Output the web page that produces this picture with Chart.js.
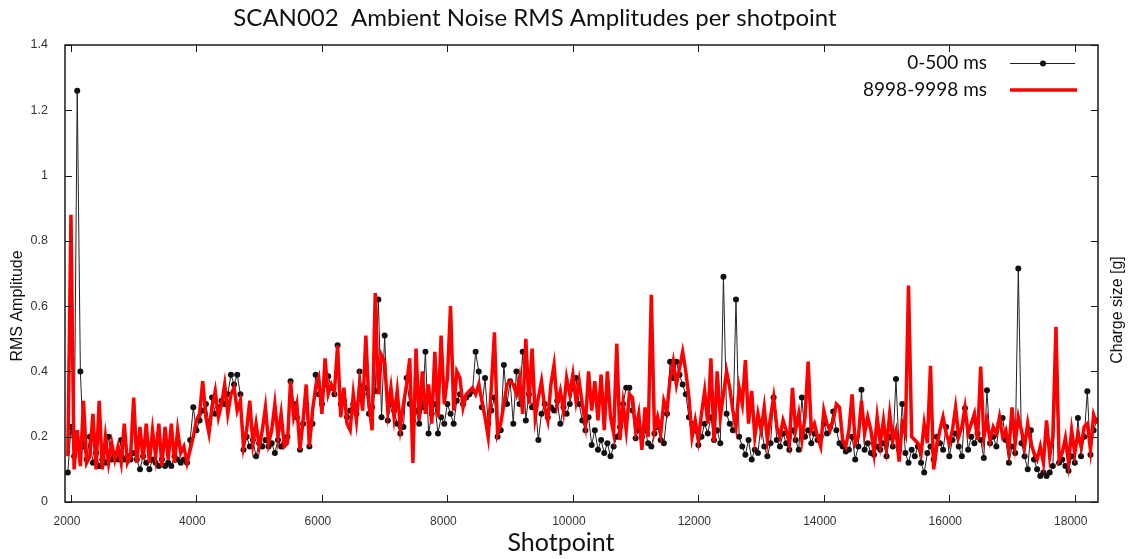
<!DOCTYPE html>
<html>
<head>
<meta charset="utf-8">
<script src="https://cdn.jsdelivr.net/npm/chart.js@4.4.1/dist/chart.umd.min.js"></script>
<style>
  body { margin: 0; background: #fff; }
  canvas { display: block; }
</style>
</head>
<body>
<canvas id="noiseChart" width="1130" height="559"></canvas>
<script>
'use strict';

// shotpoint numbers, one row per 1000 shotpoints
const shotpoints = [
  1950, 2000, 2050, 2100, 2150, 2200, 2250, 2300, 2350, 2400, 2450, 2500, 2550, 2600, 2650, 2700, 2750, 2800, 2850, 2900,
  2950, 3000, 3050, 3100, 3150, 3200, 3250, 3300, 3350, 3400, 3450, 3500, 3550, 3600, 3650, 3700, 3750, 3800, 3850, 3900,
  3950, 4000, 4050, 4100, 4150, 4200, 4250, 4300, 4350, 4400, 4450, 4500, 4550, 4600, 4650, 4700, 4750, 4800, 4850, 4900,
  4950, 5000, 5050, 5100, 5150, 5200, 5250, 5300, 5350, 5400, 5450, 5500, 5550, 5600, 5650, 5700, 5750, 5800, 5850, 5900,
  5950, 6000, 6050, 6100, 6150, 6200, 6250, 6300, 6350, 6400, 6450, 6500, 6550, 6600, 6650, 6700, 6750, 6800, 6850, 6900,
  6950, 7000, 7050, 7100, 7150, 7200, 7250, 7300, 7350, 7400, 7450, 7500, 7550, 7600, 7650, 7700, 7750, 7800, 7850, 7900,
  7950, 8000, 8050, 8100, 8150, 8200, 8250, 8300, 8350, 8400, 8450, 8500, 8550, 8600, 8650, 8700, 8750, 8800, 8850, 8900,
  8950, 9000, 9050, 9100, 9150, 9200, 9250, 9300, 9350, 9400, 9450, 9500, 9550, 9600, 9650, 9700, 9750, 9800, 9850, 9900,
  9950, 10000, 10050, 10100, 10150, 10200, 10250, 10300, 10350, 10400, 10450, 10500, 10550, 10600, 10650, 10700, 10750, 10800, 10850, 10900,
  10950, 11000, 11050, 11100, 11150, 11200, 11250, 11300, 11350, 11400, 11450, 11500, 11550, 11600, 11650, 11700, 11750, 11800, 11850, 11900,
  11950, 12000, 12050, 12100, 12150, 12200, 12250, 12300, 12350, 12400, 12450, 12500, 12550, 12600, 12650, 12700, 12750, 12800, 12850, 12900,
  12950, 13000, 13050, 13100, 13150, 13200, 13250, 13300, 13350, 13400, 13450, 13500, 13550, 13600, 13650, 13700, 13750, 13800, 13850, 13900,
  13950, 14000, 14050, 14100, 14150, 14200, 14250, 14300, 14350, 14400, 14450, 14500, 14550, 14600, 14650, 14700, 14750, 14800, 14850, 14900,
  14950, 15000, 15050, 15100, 15150, 15200, 15250, 15300, 15350, 15400, 15450, 15500, 15550, 15600, 15650, 15700, 15750, 15800, 15850, 15900,
  15950, 16000, 16050, 16100, 16150, 16200, 16250, 16300, 16350, 16400, 16450, 16500, 16550, 16600, 16650, 16700, 16750, 16800, 16850, 16900,
  16950, 17000, 17050, 17100, 17150, 17200, 17250, 17300, 17350, 17400, 17450, 17500, 17550, 17600, 17650, 17700, 17750, 17800, 17850, 17900,
  17950, 18000, 18050, 18100, 18150, 18200, 18250, 18300, 18350
];

// RMS amplitude, 0-500 ms window (black)
const rmsEarly = [
  0.09, 0.23, 0.14, 1.26, 0.40, 0.17, 0.13, 0.20, 0.12, 0.15, 0.11, 0.13, 0.12, 0.20, 0.13, 0.14, 0.13, 0.19, 0.13, 0.14,
  0.13, 0.15, 0.13, 0.10, 0.14, 0.12, 0.10, 0.13, 0.12, 0.11, 0.13, 0.11, 0.12, 0.11, 0.14, 0.13, 0.12, 0.13, 0.12, 0.19,
  0.29, 0.22, 0.25, 0.28, 0.30, 0.24, 0.32, 0.27, 0.29, 0.31, 0.30, 0.33, 0.39, 0.36, 0.39, 0.33, 0.16, 0.20, 0.17, 0.19,
  0.14, 0.18, 0.17, 0.19, 0.17, 0.18, 0.15, 0.19, 0.17, 0.18, 0.20, 0.37, 0.30, 0.26, 0.16, 0.24, 0.30, 0.17, 0.24, 0.39,
  0.33, 0.30, 0.36, 0.385, 0.35, 0.33, 0.48, 0.30, 0.31, 0.26, 0.28, 0.30, 0.27, 0.40, 0.33, 0.35, 0.27, 0.29, 0.34, 0.62,
  0.26, 0.51, 0.25, 0.30, 0.28, 0.24, 0.21, 0.23, 0.38, 0.30, 0.25, 0.28, 0.24, 0.29, 0.46, 0.21, 0.27, 0.30, 0.21, 0.26,
  0.24, 0.30, 0.27, 0.24, 0.31, 0.33, 0.30, 0.32, 0.33, 0.34, 0.46, 0.40, 0.29, 0.38, 0.24, 0.28, 0.32, 0.20, 0.22, 0.42,
  0.30, 0.37, 0.24, 0.40, 0.30, 0.46, 0.25, 0.33, 0.29, 0.30, 0.19, 0.27, 0.30, 0.26, 0.29, 0.28, 0.31, 0.24, 0.29, 0.27,
  0.30, 0.35, 0.38, 0.30, 0.25, 0.22, 0.26, 0.175, 0.22, 0.16, 0.19, 0.15, 0.18, 0.14, 0.17, 0.20, 0.23, 0.30, 0.35, 0.35,
  0.28, 0.195, 0.22, 0.20, 0.22, 0.18, 0.17, 0.21, 0.23, 0.19, 0.18, 0.27, 0.43, 0.38, 0.43, 0.39, 0.36, 0.33, 0.26, 0.24,
  0.22, 0.175, 0.20, 0.24, 0.21, 0.26, 0.19, 0.22, 0.18, 0.69, 0.27, 0.24, 0.22, 0.62, 0.20, 0.17, 0.145, 0.19, 0.13, 0.16,
  0.15, 0.24, 0.17, 0.14, 0.18, 0.32, 0.19, 0.17, 0.21, 0.18, 0.16, 0.22, 0.19, 0.16, 0.32, 0.20, 0.22, 0.18, 0.21, 0.19,
  0.20, 0.24, 0.21, 0.23, 0.277, 0.22, 0.18, 0.17, 0.155, 0.16, 0.20, 0.13, 0.17, 0.344, 0.16, 0.18, 0.15, 0.145, 0.17, 0.16,
  0.18, 0.14, 0.20, 0.17, 0.377, 0.16, 0.30, 0.15, 0.12, 0.16, 0.14, 0.17, 0.12, 0.09, 0.15, 0.17, 0.13, 0.20, 0.18, 0.16,
  0.23, 0.14, 0.19, 0.21, 0.17, 0.14, 0.287, 0.16, 0.20, 0.18, 0.21, 0.19, 0.135, 0.342, 0.18, 0.20, 0.17, 0.24, 0.257, 0.19,
  0.12, 0.17, 0.15, 0.715, 0.18, 0.14, 0.10, 0.22, 0.13, 0.10, 0.08, 0.09, 0.08, 0.09, 0.11, 0.374, 0.12, 0.13, 0.11, 0.096,
  0.14, 0.12, 0.257, 0.14, 0.20, 0.339, 0.145, 0.22, 0.25
];

// RMS amplitude, 8998-9998 ms window (red)
const rmsLate = [
  0.14, 0.88, 0.10, 0.22, 0.11, 0.31, 0.12, 0.14, 0.27, 0.10, 0.31, 0.10, 0.20, 0.12, 0.18, 0.13, 0.17, 0.12, 0.24, 0.12,
  0.14, 0.32, 0.12, 0.23, 0.13, 0.24, 0.12, 0.22, 0.14, 0.24, 0.11, 0.23, 0.13, 0.24, 0.12, 0.22, 0.15, 0.17, 0.12, 0.16,
  0.20, 0.25, 0.27, 0.37, 0.26, 0.21, 0.29, 0.34, 0.26, 0.30, 0.36, 0.27, 0.33, 0.35, 0.28, 0.31, 0.17, 0.22, 0.31, 0.18,
  0.24, 0.17, 0.22, 0.29, 0.18, 0.22, 0.30, 0.20, 0.27, 0.17, 0.18, 0.37, 0.26, 0.30, 0.16, 0.25, 0.36, 0.17, 0.28, 0.35,
  0.38, 0.27, 0.44, 0.33, 0.36, 0.34, 0.48, 0.26, 0.35, 0.24, 0.22, 0.33, 0.25, 0.36, 0.28, 0.51, 0.30, 0.22, 0.64, 0.33,
  0.45, 0.43, 0.28, 0.35, 0.26, 0.34, 0.23, 0.30, 0.36, 0.44, 0.12, 0.47, 0.25, 0.40, 0.27, 0.36, 0.24, 0.46, 0.26, 0.51,
  0.30, 0.38, 0.60, 0.28, 0.40, 0.38, 0.29, 0.33, 0.34, 0.35, 0.33, 0.36, 0.31, 0.26, 0.20, 0.35, 0.52, 0.21, 0.24, 0.30,
  0.36, 0.37, 0.36, 0.33, 0.38, 0.27, 0.50, 0.30, 0.47, 0.26, 0.32, 0.37, 0.29, 0.25, 0.36, 0.42, 0.30, 0.34, 0.28, 0.38,
  0.33, 0.39, 0.31, 0.37, 0.30, 0.24, 0.40, 0.28, 0.37, 0.25, 0.39, 0.22, 0.40, 0.26, 0.21, 0.485, 0.19, 0.30, 0.22, 0.33,
  0.32, 0.22, 0.27, 0.16, 0.29, 0.20, 0.635, 0.22, 0.26, 0.21, 0.31, 0.28, 0.38, 0.43, 0.36, 0.41, 0.46, 0.40, 0.32, 0.20,
  0.25, 0.19, 0.27, 0.34, 0.24, 0.44, 0.185, 0.40, 0.26, 0.33, 0.40, 0.35, 0.28, 0.23, 0.35, 0.30, 0.435, 0.24, 0.34, 0.20,
  0.27, 0.22, 0.29, 0.19, 0.26, 0.32, 0.23, 0.20, 0.25, 0.22, 0.18, 0.35, 0.22, 0.27, 0.19, 0.26, 0.43, 0.22, 0.24, 0.20,
  0.17, 0.28, 0.24, 0.22, 0.25, 0.30, 0.29, 0.19, 0.17, 0.22, 0.33, 0.18, 0.20, 0.31, 0.21, 0.26, 0.22, 0.15, 0.26, 0.18,
  0.25, 0.17, 0.27, 0.19, 0.22, 0.124, 0.24, 0.21, 0.663, 0.20, 0.19, 0.18, 0.15, 0.24, 0.18, 0.417, 0.10, 0.17, 0.22, 0.26,
  0.21, 0.18, 0.22, 0.29, 0.20, 0.23, 0.29, 0.21, 0.24, 0.27, 0.19, 0.415, 0.20, 0.25, 0.19, 0.23, 0.21, 0.26, 0.20, 0.22,
  0.16, 0.29, 0.18, 0.26, 0.22, 0.17, 0.24, 0.18, 0.15, 0.13, 0.17, 0.12, 0.25, 0.14, 0.20, 0.537, 0.13, 0.15, 0.196, 0.12,
  0.22, 0.15, 0.21, 0.17, 0.23, 0.24, 0.16, 0.267, 0.24
];

const xTicks = [2000, 4000, 6000, 8000, 10000, 12000, 14000, 16000, 18000];
const yTicks = [0, 0.2, 0.4, 0.6, 0.8, 1, 1.2, 1.4];
const seriesNames = ['0-500 ms', '8998-9998 ms'];

const chartTitle = 'SCAN002  Ambient Noise RMS Amplitudes per shotpoint';
const xTitle = 'Shotpoint';
const yTitle = 'RMS Amplitude';
const y2Title = 'Charge size [g]';

function toPoints(values) {
    return shotpoints.map((sp, i) => ({ x: sp, y: values[i] }));
}

// gnuplot style frame: box with ticks pointing inwards, titles and legend
const gnuFrame = {
    id: 'gnuFrame',
    afterDatasetsDraw(chart) {
        const { ctx, chartArea: a, scales } = chart;
        ctx.save();
        ctx.strokeStyle = '#1a1a1a';
        ctx.lineWidth = 1;
        ctx.beginPath();
        scales.x.ticks.forEach(t => {
            const px = Math.round(scales.x.getPixelForValue(t.value)) + 0.5;
            ctx.moveTo(px, a.bottom); ctx.lineTo(px, a.bottom - 7);
            ctx.moveTo(px, a.top); ctx.lineTo(px, a.top + 7);
        });
        scales.y.ticks.forEach(t => {
            const py = Math.round(scales.y.getPixelForValue(t.value)) + 0.5;
            ctx.moveTo(a.left, py); ctx.lineTo(a.left + 7, py);
            ctx.moveTo(a.right, py); ctx.lineTo(a.right - 7, py);
        });
        ctx.stroke();
        ctx.lineWidth = 1.5;
        ctx.strokeRect(a.left, a.top, a.right - a.left, a.bottom - a.top);

        // titles
        ctx.fillStyle = '#111';
        ctx.textAlign = 'center';
        ctx.textBaseline = 'middle';
        ctx.font = '24px Lato';
        ctx.fillText(chartTitle, 535, 18);
        ctx.font = '25px Lato';
        ctx.fillText(xTitle, 561, 543);
        ctx.font = '16px "Liberation Sans"';
        ctx.save();
        ctx.translate(18, 306);
        ctx.rotate(-Math.PI / 2);
        ctx.fillText(yTitle, 0, 0);
        ctx.restore();
        ctx.save();
        ctx.translate(1118, 310);
        ctx.rotate(-Math.PI / 2);
        ctx.fillText(y2Title, 0, 0);
        ctx.restore();

        // legend
        ctx.font = '19px Lato';
        ctx.textAlign = 'right';
        ctx.fillText(seriesNames[0], 987, 63);
        ctx.fillText(seriesNames[1], 987, 90);
        ctx.strokeStyle = '#222';
        ctx.lineWidth = 1;
        ctx.beginPath();
        ctx.moveTo(1010, 63.5); ctx.lineTo(1075, 63.5);
        ctx.stroke();
        ctx.fillStyle = '#111';
        ctx.beginPath();
        ctx.arc(1043, 63.5, 3, 0, Math.PI * 2);
        ctx.fill();
        ctx.strokeStyle = '#ff0000';
        ctx.lineWidth = 3.5;
        ctx.beginPath();
        ctx.moveTo(1010, 90); ctx.lineTo(1077, 90);
        ctx.stroke();
        ctx.restore();
    }
};

const config = {
    type: 'line',
    data: {
        datasets: [
            {
                label: seriesNames[0],
                data: toPoints(rmsEarly),
                borderColor: '#222',
                borderWidth: 1,
                pointRadius: 3,
                pointBackgroundColor: '#111',
                pointBorderWidth: 0,
                order: 1,
            },
            {
                label: seriesNames[1],
                data: toPoints(rmsLate),
                borderColor: '#ff0000',
                borderWidth: 3.5,
                pointRadius: 0,
                order: 0,
            },
        ]
    },
    options: {
        responsive: false,
        animation: false,
        layout: { padding: { top: 45, right: 32, left: 0, bottom: 0 } },
        plugins: {
            legend: { display: false },
            title: { display: false },
            tooltip: { enabled: false },
        },
        scales: {
            x: {
                type: 'linear',
                min: 1905,
                max: 18370,
                grid: { display: false },
                border: { display: false },
                afterBuildTicks: scale => { scale.ticks = xTicks.map(v => ({ value: v })); },
                afterFit: scale => { scale.height = 57; },
                ticks: {
                    color: '#333',
                    font: { family: 'Liberation Sans', size: 12 },
                    padding: 4,
                    maxRotation: 0,
                    labelOffset: -4,
                    callback: v => String(v),
                },
            },
            y: {
                min: 0,
                max: 1.4,
                grid: { display: false },
                border: { display: false },
                afterBuildTicks: scale => { scale.ticks = yTicks.map(v => ({ value: v })); },
                afterFit: scale => { scale.width = 65; },
                ticks: {
                    color: '#333',
                    font: { family: 'Liberation Sans', size: 12.5 },
                    padding: 9,
                    callback: v => String(Math.round(v * 10) / 10),
                },
            },
        },
    },
    plugins: [gnuFrame],
};

const noiseChart = new Chart(document.getElementById('noiseChart'), config);
</script>
</body>
</html>
